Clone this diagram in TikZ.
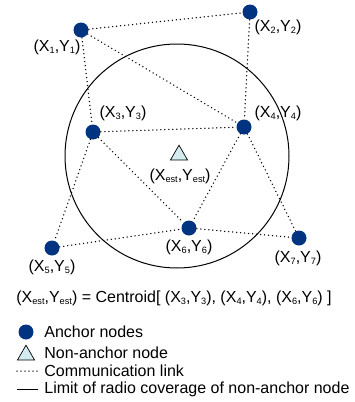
\documentclass[tikz,border=0pt]{standalone}
\usepackage{fontspec}
\setmainfont{Liberation Sans}
\usepackage{xcolor}
\usepackage{tikz}
\usetikzlibrary{shapes.geometric}

\definecolor{anchorblue}{RGB}{0,51,128}
\definecolor{estcyan}{RGB}{212,236,240}

\newcommand{\sbs}[1]{\raisebox{-0.25ex}{\fontsize{4.6}{5}\selectfont #1}}
\newcommand{\xy}[1]{(X\sbs{#1},Y\sbs{#1})}

\begin{document}
\begin{tikzpicture}[x=0.5pt,y=-0.5pt,font=\fontsize{8}{9.6}\selectfont,
  anchornode/.style={circle, fill=anchorblue, inner sep=0pt, minimum size=7.5pt},
  estnode/.style={regular polygon, regular polygon sides=3, draw=black, line width=0.35pt, fill=estcyan, inner sep=0pt, minimum size=9.8pt},
  commlink/.style={line width=0.75pt, dash pattern=on 0pt off 2pt, line cap=round},
  coverage/.style={line width=0.5pt},
  lbl/.style={inner sep=0pt}]
  \useasboundingbox (0,0) rectangle (354,402);

  \begin{scope}
    \draw[coverage] (177,156) circle (112);
    \node[anchornode] (a1) at (81,30) {};
    \node[anchornode] (a2) at (250,12) {};
    \node[anchornode] (a3) at (93,132) {};
    \node[anchornode] (a4) at (244,127) {};
    \node[anchornode] (a5) at (52,248) {};
    \node[anchornode] (a6) at (189,228) {};
    \node[anchornode] (a7) at (299,238) {};
    \node[estnode] (est) at (179,155) {};
    \foreach \i/\j in {a1/a2,a1/a3,a1/a4,a2/a4,a3/a4,a3/a5,a3/a6,a4/a6,a4/a7,a5/a6,a6/a7} {
      \draw[commlink] (\i) -- (\j);
    }
    \node[lbl] (l1) at (57,47) {\xy{1}};
    \node[lbl] (l2) at (278,27) {\xy{2}};
    \node[lbl] (l3) at (123,113) {\xy{3}};
    \node[lbl] (l4) at (278,113) {\xy{4}};
    \node[lbl] (lest) at (180,176) {\xy{est}};
    \node[lbl] (l5) at (52,267) {\xy{5}};
    \node[lbl] (l6) at (189,247) {\xy{6}};
    \node[lbl] (l7) at (298,258) {\xy{7}};
    \node[lbl] (formula) at (174,298) {\xy{est} = Centroid[ \xy{3}, \xy{4}, \xy{6} ]};
  \end{scope}

  \begin{scope}
    \node[anchornode] (k1) at (26,332) {};
    \node[lbl, anchor=west] (t1) at (44,332) {Anchor nodes};
    \node[estnode] (k2) at (26,355) {};
    \node[lbl, anchor=west] (t2) at (44,353) {Non-anchor node};
    \coordinate (k3a) at (17,371);
    \coordinate (k3b) at (38,371);
    \draw[commlink] (k3a) -- (k3b);
    \node[lbl, anchor=west] (t3) at (44,371) {Communication link};
    \coordinate (k4a) at (17,389);
    \coordinate (k4b) at (38,389);
    \draw[coverage] (k4a) -- (k4b);
    \node[lbl, anchor=west] (t4) at (44,389) {Limit of radio coverage of non-anchor node};
  \end{scope}
\end{tikzpicture}
\end{document}
